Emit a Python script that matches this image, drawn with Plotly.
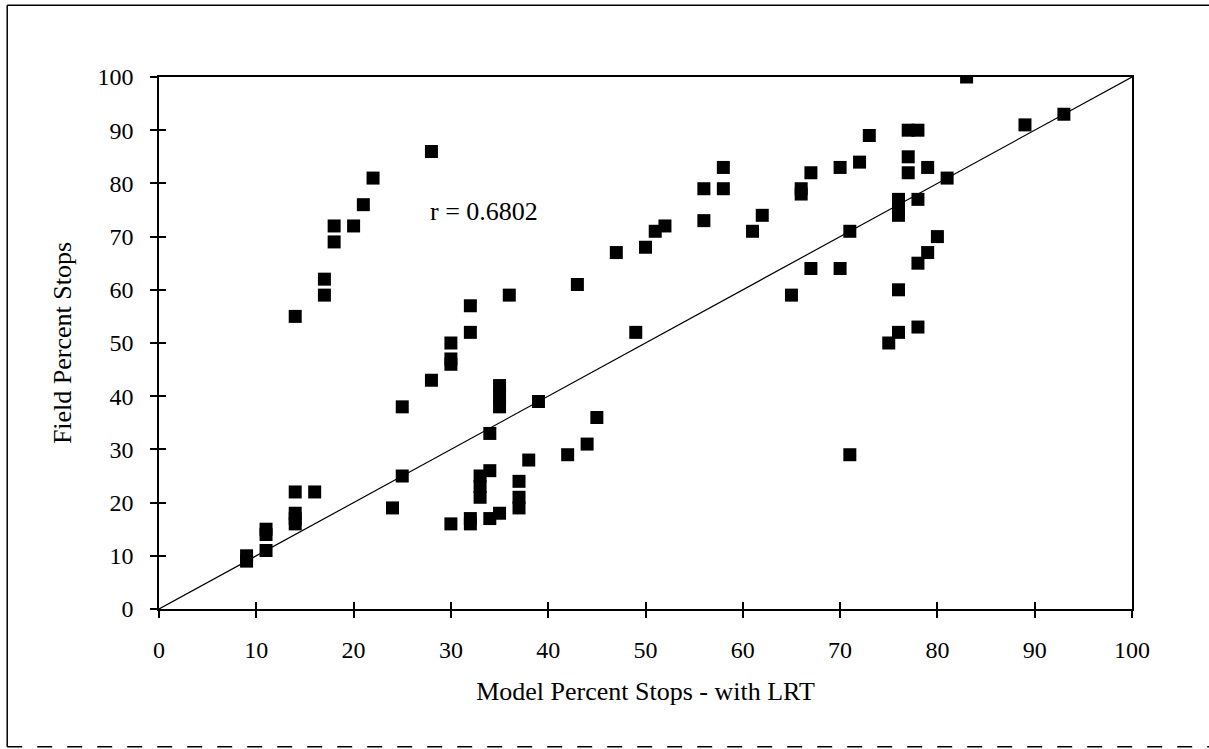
import plotly.graph_objects as go

model_pct = [9, 9, 11, 11, 11, 14, 14, 14, 14, 14, 16, 17, 17, 18, 18, 20, 21, 22, 24, 25, 25,
             28, 28, 30, 30, 30, 30, 32, 32, 32, 32, 33, 33, 33, 34, 34, 34, 35, 35, 35, 35,
             36, 37, 37, 37, 38, 39, 42, 43, 44, 45, 47, 49, 50, 51, 52, 56, 56, 58, 58, 61,
             62, 65, 66, 66, 67, 67, 70, 70, 71, 71, 72, 73, 75, 76, 76, 76, 76, 76, 77, 77,
             77, 78, 78, 78, 78, 79, 79, 80, 81, 83, 89, 93]
field_pct = [9, 10, 11, 14, 15, 55, 22, 18, 17, 16, 22, 62, 59, 72, 69, 72, 76, 81, 19, 38, 25,
             86, 43, 50, 47, 46, 16, 57, 52, 17, 16, 25, 23, 21, 33, 26, 17, 42, 40, 38, 18,
             59, 24, 21, 19, 28, 39, 29, 61, 31, 36, 67, 52, 68, 71, 72, 79, 73, 83, 79, 71,
             74, 59, 79, 78, 82, 64, 83, 64, 71, 29, 84, 89, 50, 77, 76, 74, 60, 52, 90, 85,
             82, 90, 77, 65, 53, 83, 67, 70, 81, 100, 91, 93]
ref_line = [0, 100]
tick_vals = [0, 10, 20, 30, 40, 50, 60, 70, 80, 90, 100]
r_label = "r = 0.6802"

FONT = "Liberation Serif, Times New Roman, serif"

fig = go.Figure()
fig.add_trace(go.Scatter(x=ref_line, y=ref_line, mode="lines",
                         line=dict(color="black", width=1.2), showlegend=False, hoverinfo="skip"))
fig.add_trace(go.Scatter(x=model_pct, y=field_pct, mode="markers",
                         marker=dict(symbol="square", size=13, color="black"),
                         showlegend=False))
# inner ticks (overlay axes, no labels)
fig.add_trace(go.Scatter(x=[None], y=[None], xaxis="x2", yaxis="y2", showlegend=False))

axis_common = dict(range=[0, 100], tickvals=tick_vals, showgrid=False, zeroline=False,
                   showline=True, linecolor="black", linewidth=1.5,
                   ticks="outside", ticklen=7, tickwidth=1.5, tickcolor="black",
                   tickfont=dict(family=FONT, size=24, color="black"), mirror=True)

fig.update_layout(
    width=1209, height=749,
    margin=dict(l=159, r=77, t=77, b=140),
    paper_bgcolor="white", plot_bgcolor="white",
    font=dict(family=FONT, color="black"),
    xaxis=dict(**axis_common, ticklabelstandoff=11,
               title=dict(text="Model Percent Stops - with LRT",
                          font=dict(family=FONT, size=26, color="black"), standoff=20)),
    yaxis=dict(**axis_common, ticklabelstandoff=12,
               title=dict(text="Field Percent Stops",
                          font=dict(family=FONT, size=26, color="black"), standoff=18)),
    xaxis2=dict(range=[0, 100], tickvals=tick_vals, overlaying="x", showticklabels=False,
                ticks="inside", ticklen=7, tickwidth=1.5, tickcolor="black",
                showgrid=False, zeroline=False, showline=False),
    yaxis2=dict(range=[0, 100], tickvals=tick_vals, overlaying="y", showticklabels=False,
                ticks="inside", ticklen=7, tickwidth=1.5, tickcolor="black",
                showgrid=False, zeroline=False, showline=False),
    annotations=[dict(x=27.6, y=74.8, xref="x", yref="y", text=r_label, showarrow=False,
                      xanchor="left", yanchor="middle",
                      font=dict(family=FONT, size=26, color="black"))],
    shapes=[
        dict(type="line", xref="paper", yref="paper", x0=-0.156, x1=-0.156, y0=-0.259, y1=1.135,
             line=dict(color="black", width=1.5)),
        dict(type="line", xref="paper", yref="paper", x0=-0.156, x1=1.08, y0=1.135, y1=1.135,
             line=dict(color="black", width=1.5)),
        dict(type="line", xref="paper", yref="paper", x0=-0.156, x1=1.08, y0=-0.259, y1=-0.259,
             line=dict(color="black", width=1.5, dash="longdash")),
    ],
)

fig.write_html("out.html")
